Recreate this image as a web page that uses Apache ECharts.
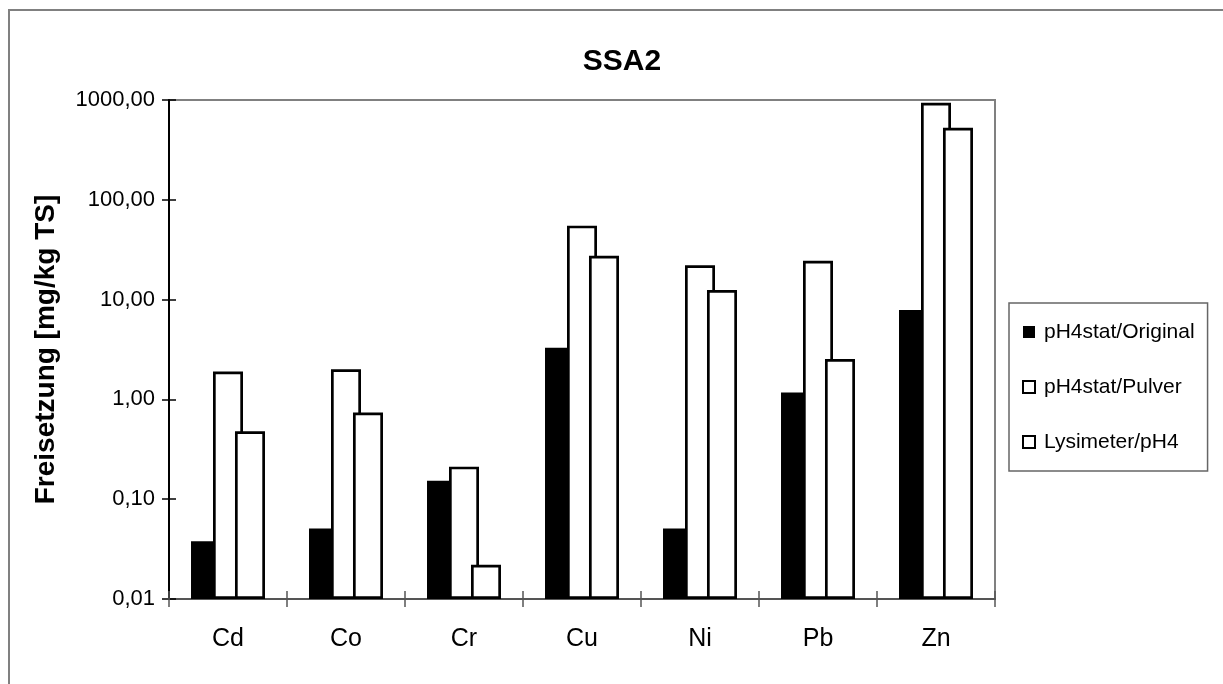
<!DOCTYPE html>
<html>
<head>
<meta charset="utf-8">
<title>SSA2</title>
<script src="https://cdn.jsdelivr.net/npm/echarts/dist/echarts.min.js"></script>
<style>
  html, body { margin: 0; padding: 0; background: #fff; }
  #chart { width: 1223px; height: 684px; }
</style>
</head>
<body>
<div id="chart"></div>
<script>
// Freisetzung in mg/kg TS
const elements = ['Cd', 'Co', 'Cr', 'Cu', 'Ni', 'Pb', 'Zn']
const origValues = [0.038, 0.051, 0.153, 3.30, 0.051, 1.17, 7.87]
const pulverValues = [1.90, 2.00, 0.212, 55.1, 22.1, 24.5, 940]
const lysiValues = [0.48, 0.74, 0.022, 27.5, 12.5, 2.54, 527]
const seriesNames = ['pH4stat/Original', 'pH4stat/Pulver', 'Lysimeter/pH4']

const font = '"Liberation Sans", Arial, sans-serif'
const chart = echarts.init(document.getElementById('chart'))

function fmt(v) {
  return v.toFixed(2).replace('.', ',')
}

const whiteBar = { color: '#fff', borderColor: '#000', borderWidth: 2.7 }

chart.setOption({
  animation: false,
  backgroundColor: '#fff',
  textStyle: { fontFamily: font },
  graphic: [{
    type: 'rect',
    shape: { x: 9, y: 10, width: 1400, height: 900 },
    style: { fill: 'none', stroke: '#808080', lineWidth: 2 },
    silent: true
  }],
  title: {
    text: 'SSA2',
    left: 617,
    textAlign: 'center',
    top: 42,
    textStyle: { fontFamily: font, fontWeight: 'bold', fontSize: 30, color: '#000' }
  },
  legend: {
    orient: 'vertical',
    left: 1009,
    top: 303,
    padding: [18, 13, 18, 13],
    itemGap: 33,
    itemWidth: 12,
    itemHeight: 12,
    borderColor: '#666',
    borderWidth: 1.5,
    icon: 'rect',
    textStyle: { fontFamily: font, fontSize: 21, color: '#000', lineHeight: 22, padding: [0, 0, 0, 4] },
    data: [
      { name: seriesNames[0], itemStyle: { color: '#000', borderWidth: 0 } },
      { name: seriesNames[1], itemStyle: { color: '#fff', borderColor: '#000', borderWidth: 2 } },
      { name: seriesNames[2], itemStyle: { color: '#fff', borderColor: '#000', borderWidth: 2 } }
    ]
  },
  grid: {
    left: 169,
    top: 100,
    width: 826,
    height: 499,
    show: true,
    borderColor: '#808080',
    borderWidth: 2
  },
  xAxis: [
    {
      type: 'category',
      data: elements,
      position: 'bottom',
      axisLine: { lineStyle: { color: '#555', width: 2 } },
      axisTick: { show: true, interval: 0, length: 8, lineStyle: { color: '#555', width: 1.5 } },
      axisLabel: { margin: 28, fontFamily: font, fontSize: 25, color: '#000' },
      splitLine: { show: false }
    },
    {
      // second axis only for the inner half of the crossing ticks
      type: 'category',
      data: elements,
      position: 'bottom',
      axisLine: { show: false },
      axisTick: { show: true, inside: true, interval: 0, length: 8, lineStyle: { color: '#555', width: 1.5 } },
      axisLabel: { show: false },
      splitLine: { show: false }
    }
  ],
  yAxis: [
    {
      type: 'log',
      logBase: 10,
      min: 0.01,
      max: 1000,
      startValue: 0.01,
      name: 'Freisetzung [mg/kg TS]',
      nameLocation: 'middle',
      nameGap: 109,
      nameTextStyle: { fontFamily: font, fontWeight: 'bold', fontSize: 28, color: '#000' },
      axisLine: { show: true, lineStyle: { color: '#000', width: 2 } },
      axisTick: { show: true, length: 7, lineStyle: { color: '#000', width: 1.5 } },
      axisLabel: { margin: 14, fontFamily: font, fontSize: 22, color: '#000', formatter: fmt },
      splitLine: { show: false }
    },
    {
      type: 'log',
      logBase: 10,
      min: 0.01,
      max: 1000,
      position: 'left',
      axisLine: { show: false },
      axisTick: { show: true, inside: true, length: 7, lineStyle: { color: '#000', width: 1.5 } },
      axisLabel: { show: false },
      splitLine: { show: false }
    }
  ],
  series: [
    {
      name: seriesNames[0],
      type: 'bar',
      data: origValues,
      barWidth: 30,
      barGap: '-26.7%',
      itemStyle: { color: '#000' }
    },
    {
      name: seriesNames[1],
      type: 'bar',
      data: pulverValues,
      barWidth: 30,
      barGap: '-26.7%',
      itemStyle: whiteBar
    },
    {
      name: seriesNames[2],
      type: 'bar',
      data: lysiValues,
      barWidth: 30,
      barGap: '-26.7%',
      itemStyle: whiteBar
    }
  ]
})
</script>
</body>
</html>
